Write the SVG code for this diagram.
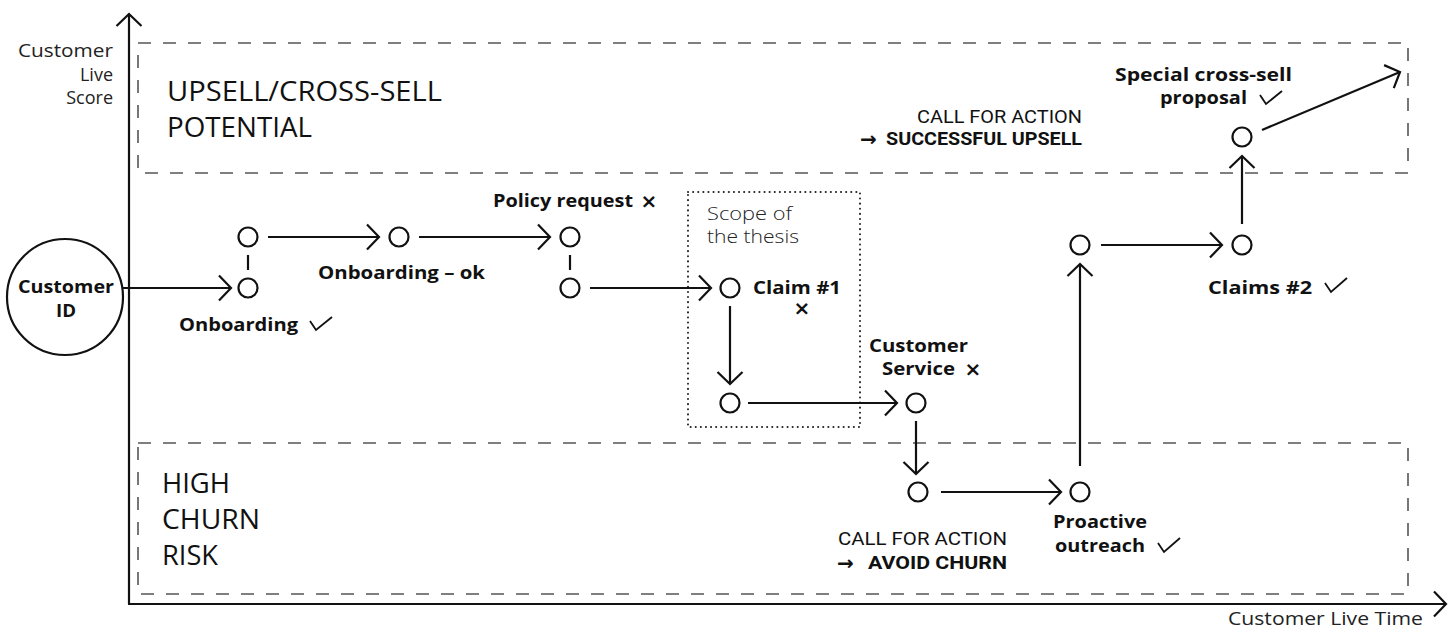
<svg xmlns="http://www.w3.org/2000/svg" width="1456" height="636" viewBox="0 0 1456 636">
<style>
.ln{stroke:#111;stroke-width:2.2;fill:none}
.ck{stroke:#111;stroke-width:1.8;fill:none}
.nd{stroke:#111;stroke-width:2.2;fill:#fff}
.dash{stroke:#555;stroke-width:1.6;fill:none;stroke-dasharray:13 12}
.dot{stroke:#222;stroke-width:2;fill:none;stroke-dasharray:0.1 5;stroke-linecap:round}
.b{font-family:"Open Sans","Noto Sans",sans-serif;font-weight:700;font-size:18px;fill:#111}
.l{font-family:"Open Sans","Noto Sans",sans-serif;font-weight:400;font-size:18px;fill:#222}
.t{font-family:"Open Sans","Noto Sans",sans-serif;font-weight:300;font-size:18px;fill:#222}
.big{font-family:"Open Sans","Noto Sans",sans-serif;font-weight:400;font-size:27px;fill:#111}
.cfa{font-family:Roboto,"Liberation Sans",sans-serif;font-size:18.5px;fill:#111}
.cfb{font-family:Roboto,"Liberation Sans",sans-serif;font-weight:700;font-size:18.5px;fill:#111}
.arr{font-family:"DejaVu Sans",sans-serif;font-weight:700;font-size:20px;fill:#111}
.x{font-family:"DejaVu Sans",sans-serif;font-weight:700;font-size:20px;fill:#111;text-anchor:middle}
</style>
<defs>
<marker id="ah" markerUnits="userSpaceOnUse" markerWidth="18" markerHeight="30" refX="14" refY="14" orient="auto">
<path d="M2,1.5 L14,14 L2,26.5" fill="none" stroke="#111" stroke-width="2.2"/>
</marker>
</defs>

<g id="axes">
<line class="ln" x1="129" y1="604" x2="129" y2="14" marker-end="url(#ah)"/>
<line class="ln" x1="128" y1="604" x2="1446" y2="604" marker-end="url(#ah)"/>
<text class="l" text-anchor="end" x="113" y="57" textLength="95" lengthAdjust="spacingAndGlyphs">Customer</text>
<text class="l" text-anchor="end" x="113" y="81">Live</text>
<text class="l" text-anchor="end" x="113" y="104">Score</text>
<text class="l" x="1228" y="625" textLength="195" lengthAdjust="spacingAndGlyphs">Customer Live Time</text>
</g>

<g id="zone-upsell">
<rect class="dash" x="138" y="43" width="1270" height="130"/>
<text class="big" x="167" y="101" textLength="275" lengthAdjust="spacingAndGlyphs">UPSELL/CROSS-SELL</text>
<text class="big" x="167" y="137" textLength="145" lengthAdjust="spacingAndGlyphs">POTENTIAL</text>
<text class="cfa" x="917" y="123" textLength="165" lengthAdjust="spacingAndGlyphs">CALL FOR ACTION</text>
<text class="arr" x="860" y="146">→</text>
<text class="cfb" x="886" y="145" textLength="196" lengthAdjust="spacingAndGlyphs">SUCCESSFUL UPSELL</text>
</g>

<g id="zone-churn">
<rect class="dash" x="138" y="443" width="1270" height="151"/>
<text class="big" x="162" y="493" textLength="68" lengthAdjust="spacingAndGlyphs">HIGH</text>
<text class="big" x="162" y="529" textLength="98" lengthAdjust="spacingAndGlyphs">CHURN</text>
<text class="big" x="162" y="565" textLength="56" lengthAdjust="spacingAndGlyphs">RISK</text>
<text class="cfa" x="838" y="545" textLength="169" lengthAdjust="spacingAndGlyphs">CALL FOR ACTION</text>
<text class="arr" x="837" y="570">→</text>
<text class="cfb" x="868" y="569" textLength="139" lengthAdjust="spacingAndGlyphs">AVOID CHURN</text>
</g>

<g id="scope">
<rect class="dot" x="688" y="192" width="172" height="235"/>
<text class="t" x="707" y="220" textLength="85" lengthAdjust="spacingAndGlyphs">Scope of</text>
<text class="t" x="707" y="243" textLength="92" lengthAdjust="spacingAndGlyphs">the thesis</text>
</g>

<g id="connectors">
<line class="ln" x1="123" y1="288" x2="231" y2="288" marker-end="url(#ah)"/>
<line class="ln" x1="248" y1="255" x2="248" y2="270"/>
<line class="ln" x1="268" y1="237" x2="379" y2="237" marker-end="url(#ah)"/>
<line class="ln" x1="419" y1="237" x2="550" y2="237" marker-end="url(#ah)"/>
<line class="ln" x1="570" y1="255" x2="570" y2="270"/>
<line class="ln" x1="590" y1="288" x2="711" y2="288" marker-end="url(#ah)"/>
<line class="ln" x1="730" y1="306" x2="730" y2="384" marker-end="url(#ah)"/>
<line class="ln" x1="748" y1="403" x2="897" y2="403" marker-end="url(#ah)"/>
<line class="ln" x1="916" y1="421" x2="916" y2="474" marker-end="url(#ah)"/>
<line class="ln" x1="941" y1="492" x2="1061" y2="492" marker-end="url(#ah)"/>
<line class="ln" x1="1080" y1="466" x2="1080" y2="264" marker-end="url(#ah)"/>
<line class="ln" x1="1101" y1="245" x2="1222" y2="245" marker-end="url(#ah)"/>
<line class="ln" x1="1242" y1="224" x2="1242" y2="156" marker-end="url(#ah)"/>
<line class="ln" x1="1262" y1="130" x2="1400" y2="72" marker-end="url(#ah)"/>
</g>

<g id="customer-id">
<circle class="nd" cx="65" cy="297" r="58"/>
<text class="b" text-anchor="middle" x="66" y="293" textLength="96" lengthAdjust="spacingAndGlyphs">Customer</text>
<text class="b" text-anchor="middle" x="66" y="317" textLength="20" lengthAdjust="spacingAndGlyphs">ID</text>
</g>

<g id="onboarding">
<circle class="nd" cx="248" cy="237" r="9.5"/>
<circle class="nd" cx="248" cy="288" r="9.5"/>
<text class="b" x="179" y="331" textLength="119" lengthAdjust="spacingAndGlyphs">Onboarding</text>
<path class="ck" d="M310,321 L316,330 L332,317"/>
</g>

<g id="onboarding-ok">
<circle class="nd" cx="399" cy="237" r="9.5"/>
<text class="b" x="318" y="279" textLength="167" lengthAdjust="spacingAndGlyphs">Onboarding – ok</text>
</g>

<g id="policy-request">
<circle class="nd" cx="570" cy="237" r="9.5"/>
<circle class="nd" cx="570" cy="288" r="9.5"/>
<text class="b" x="493" y="207" textLength="140" lengthAdjust="spacingAndGlyphs">Policy request</text>
<text class="x" x="649" y="208">×</text>
</g>

<g id="claim1">
<circle class="nd" cx="730" cy="288" r="9.5"/>
<circle class="nd" cx="730" cy="403" r="9.5"/>
<text class="b" x="753" y="294" textLength="88" lengthAdjust="spacingAndGlyphs">Claim #1</text>
<text class="x" x="802" y="315">×</text>
</g>

<g id="customer-service">
<circle class="nd" cx="916" cy="403" r="9.5"/>
<text class="b" x="869" y="352" textLength="99" lengthAdjust="spacingAndGlyphs">Customer</text>
<text class="b" x="882" y="375" textLength="73" lengthAdjust="spacingAndGlyphs">Service</text>
<text class="x" x="973" y="376">×</text>
</g>

<g id="avoid-churn-node">
<circle class="nd" cx="918" cy="492" r="9.5"/>
</g>

<g id="proactive-outreach">
<circle class="nd" cx="1080" cy="492" r="9.5"/>
<text class="b" x="1053" y="528" textLength="94" lengthAdjust="spacingAndGlyphs">Proactive</text>
<text class="b" x="1055" y="552" textLength="90" lengthAdjust="spacingAndGlyphs">outreach</text>
<path class="ck" d="M1158,543 L1164,552 L1180,538"/>
</g>

<g id="mid-node">
<circle class="nd" cx="1080" cy="245" r="9.5"/>
</g>

<g id="claims2">
<circle class="nd" cx="1242" cy="245" r="9.5"/>
<text class="b" x="1208" y="294" textLength="104" lengthAdjust="spacingAndGlyphs">Claims #2</text>
<path class="ck" d="M1325,283 L1331,292 L1347,278"/>
</g>

<g id="cross-sell">
<circle class="nd" cx="1242" cy="137" r="9.5"/>
<text class="b" x="1115" y="81" textLength="177" lengthAdjust="spacingAndGlyphs">Special cross-sell</text>
<text class="b" x="1160" y="104" textLength="87" lengthAdjust="spacingAndGlyphs">proposal</text>
<path class="ck" d="M1260,95 L1266,104 L1282,91"/>
</g>
</svg>
